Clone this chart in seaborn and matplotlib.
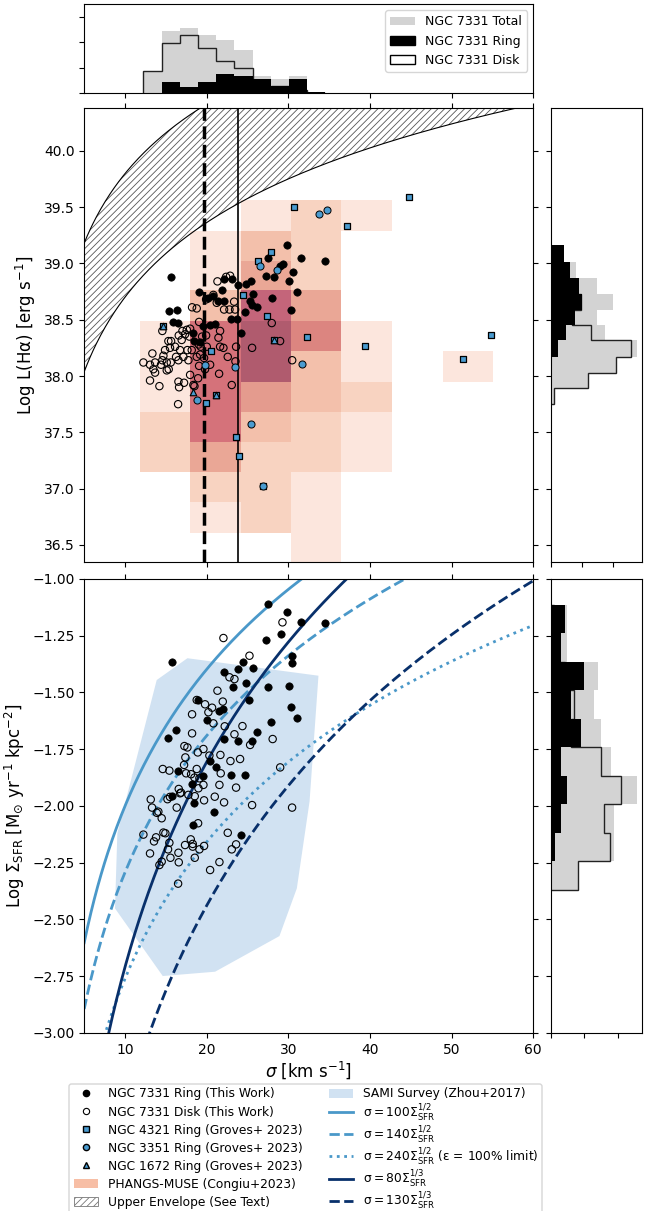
import numpy as np
import matplotlib
matplotlib.use("Agg")
import matplotlib.pyplot as plt
import seaborn as sns
from matplotlib.colors import ListedColormap
from matplotlib.lines import Line2D
from matplotlib.patches import Patch, FancyBboxPatch

# ---------------- data ----------------
# NGC 7331 ring, upper panel (sigma [km/s], log L(Halpha))
ring_sig_L = [15.64, 22.13, 23.15, 23.89, 24.79, 25.40, 27.56, 29.04, 29.32, 27.32, 28.30, 30.55,
              30.14, 19.03, 21.93, 20.21, 20.82, 21.44, 22.17, 25.73, 25.32, 25.52, 26.14, 24.71,
              27.97, 30.34, 15.35, 16.33, 15.84, 16.54, 19.52, 20.42, 21.03, 22.95, 23.68, 24.22,
              18.37, 18.50, 19.19, 29.81, 31.57, 34.47, 31.12]
ring_logL = [38.88, 38.86, 38.86, 38.81, 38.82, 38.84, 39.05, 38.98, 38.99, 38.89, 38.88, 38.92,
             38.84, 38.75, 38.76, 38.69, 38.71, 38.67, 38.67, 38.73, 38.67, 38.63, 38.61, 38.57,
             38.69, 38.59, 38.58, 38.59, 38.48, 38.47, 38.44, 38.45, 38.46, 38.51, 38.51, 38.38,
             38.38, 38.31, 38.30, 39.16, 39.05, 39.02, 38.75]

# NGC 7331 disk, upper panel
disk_sig_L = [22.87, 22.38, 21.32, 20.82, 19.93, 21.23, 23.36, 22.13, 22.79, 23.48, 18.21, 18.78,
              19.07, 17.56, 17.03, 17.97, 17.35, 16.58, 17.88, 19.44, 19.93, 21.64, 21.44, 15.31,
              15.64, 16.94, 16.13, 15.51, 16.74, 17.64, 18.17, 19.03, 19.27, 20.01, 22.05, 23.60,
              25.56, 13.35, 14.70, 12.25, 13.06, 13.68, 14.41, 15.11, 15.60, 16.25, 16.54, 17.15,
              17.76, 18.78, 19.19, 19.68, 22.58, 23.52, 19.07, 19.80, 20.42, 21.52, 13.47, 13.68,
              15.11, 15.35, 14.57, 13.06, 14.21, 16.54, 17.23, 16.62, 17.97, 18.95, 18.37, 23.07,
              16.50, 27.97, 28.99, 30.47, 14.57, 18.50, 21.64, 14.90]
disk_logL = [38.89, 38.88, 38.84, 38.72, 38.68, 38.65, 38.66, 38.59, 38.59, 38.59, 38.61, 38.60,
             38.48, 38.41, 38.40, 38.42, 38.37, 38.36, 38.35, 38.35, 38.36, 38.40, 38.34, 38.31,
             38.31, 38.32, 38.26, 38.25, 38.23, 38.23, 38.23, 38.28, 38.26, 38.26, 38.25, 38.26,
             38.25, 38.20, 38.18, 38.12, 38.10, 38.12, 38.10, 38.12, 38.12, 38.17, 38.14, 38.17,
             38.14, 38.17, 38.19, 38.16, 38.17, 38.13, 38.09, 38.06, 38.10, 38.02, 38.06, 38.03,
             38.05, 38.06, 38.14, 37.96, 37.91, 37.95, 37.94, 37.90, 38.01, 37.98, 37.92, 37.92,
             37.75, 38.47, 38.31, 38.14, 38.40, 37.91, 38.26, 38.23]

# Groves+2023 rings
n4321_sig = [44.76, 30.75, 37.16, 27.85, 26.34, 24.50, 27.44, 32.34, 54.77, 28.26, 39.41, 51.34,
             20.50, 23.64, 23.93, 26.95, 14.70, 19.93, 21.17]
n4321_logL = [39.59, 39.50, 39.33, 39.10, 39.02, 38.72, 38.53, 38.35, 38.36, 38.32, 38.27, 38.15,
              38.22, 37.46, 37.29, 37.02, 38.44, 37.76, 37.83]
n3351_sig = [33.81, 34.71, 26.54, 28.67, 19.84, 23.48, 18.86, 25.44, 31.65, 26.95]
n3351_logL = [39.44, 39.47, 38.98, 38.94, 38.10, 38.08, 37.79, 37.57, 38.11, 37.02]
n1672_sig = [14.70, 18.37, 21.17, 28.26]
n1672_logL = [38.44, 37.86, 37.83, 38.32]

# NGC 7331 ring, lower panel (sigma, log Sigma_SFR)
ring_sig_S = [27.57, 29.81, 31.57, 34.47, 29.12, 27.24, 30.50, 30.50, 15.72, 24.46, 23.89, 25.69,
              22.13, 24.79, 23.19, 27.48, 30.14, 25.15, 18.95, 21.97, 21.56, 30.30, 31.12, 27.93,
              20.01, 16.29, 15.31, 26.14, 25.56, 23.85, 22.09, 20.46, 21.15, 16.49, 19.60, 23.03,
              24.66, 18.25, 15.80, 18.46, 20.95, 18.29, 24.22]
ring_logS = [-1.109, -1.144, -1.189, -1.195, -1.242, -1.267, -1.338, -1.372, -1.367, -1.367, -1.396,
             -1.391, -1.411, -1.458, -1.476, -1.477, -1.471, -1.533, -1.533, -1.573, -1.581, -1.564,
             -1.611, -1.631, -1.623, -1.665, -1.702, -1.672, -1.712, -1.715, -1.703, -1.803, -1.828,
             -1.846, -1.866, -1.863, -1.863, -1.903, -1.957, -1.985, -2.028, -2.085, -2.126]

# NGC 7331 disk, lower panel
disk_sig_S = [22.05, 29.28, 25.24, 22.79, 23.40, 21.32, 18.78, 19.80, 21.97, 20.66, 20.21, 18.21,
              22.21, 20.82, 24.38, 23.40, 28.08, 25.32, 18.21, 17.27, 17.64, 18.91, 19.60, 17.39,
              20.33, 21.68, 22.91, 24.09, 29.00, 14.62, 15.43, 17.23, 17.48, 18.09, 18.78, 18.50,
              19.11, 21.56, 19.60, 16.58, 16.86, 17.76, 18.99, 23.60, 20.99, 22.13, 18.54, 19.68,
              25.56, 30.46, 13.15, 13.31, 16.33, 14.08, 12.25, 13.55, 13.80, 14.70, 14.94, 15.43,
              15.27, 13.06, 15.56, 14.49, 14.21, 16.54, 16.58, 17.35, 18.05, 18.29, 18.29, 19.11,
              19.68, 18.54, 18.95, 22.58, 23.60, 23.07, 21.56, 20.42, 16.50, 14.49, 15.50, 15.20,
              16.74, 21.72, 13.90]
disk_logS = [-1.260, -1.191, -1.338, -1.433, -1.441, -1.492, -1.533, -1.552, -1.540, -1.567, -1.587,
             -1.596, -1.649, -1.636, -1.648, -1.684, -1.705, -1.731, -1.680, -1.736, -1.742, -1.764,
             -1.749, -1.786, -1.778, -1.775, -1.802, -1.793, -1.830, -1.837, -1.844, -1.819, -1.856,
             -1.860, -1.837, -1.875, -1.878, -1.907, -1.907, -1.925, -1.941, -1.951, -1.922, -1.919,
             -1.959, -1.984, -1.957, -1.975, -1.996, -2.007, -1.971, -2.007, -2.007, -2.025, -2.126,
             -2.156, -2.138, -2.117, -2.120, -2.162, -2.191, -2.209, -2.228, -2.245, -2.260, -2.206,
             -2.248, -2.172, -2.147, -2.167, -2.179, -2.191, -2.176, -2.228, -2.076, -2.118, -2.169,
             -2.191, -2.247, -2.282, -2.342, -2.054, -1.960, -1.970, -1.944, -1.856, -2.030]

# marginal histograms (bin edges and heights)
sig_edges = [12.25, 14.5, 16.7, 18.9, 21.15, 23.4, 25.65, 27.85, 30.06, 32.3, 34.5]
sig_total = [8.7, 24.7, 25.8, 22.9, 20.8, 16.9, 6.8, 5.5, 6.6, 0.5]
sig_ring = [0.0, 4.5, 2.5, 4.5, 7.5, 6.8, 5.6, 2.6, 5.6, 0.5]
sig_disk = [8.7, 19.7, 22.9, 17.8, 12.5, 9.7, 1.2, 2.9, 1.0, 0.0]

L_edges = [37.75, 37.89, 38.03, 38.17, 38.32, 38.45, 38.59, 38.73, 38.87, 39.01, 39.16]
L_total = [1.1, 12.1, 21.0, 27.9, 17.7, 14.8, 20.0, 14.8, 8.0, 4.1]
L_ring = [0.0, 0.0, 0.0, 2.2, 5.0, 7.9, 10.1, 9.0, 6.1, 4.1]
L_disk = [1.1, 12.1, 21.0, 26.0, 12.9, 6.8, 9.9, 5.8, 2.0, 0.0]

S_edges = [-2.370, -2.244, -2.118, -1.993, -1.867, -1.742, -1.616, -1.490, -1.365, -1.238, -1.113]
S_total = [8.0, 18.9, 18.9, 25.9, 18.0, 14.9, 12.9, 14.0, 4.9, 4.9]
S_ring = [0.0, 1.1, 2.9, 4.9, 2.9, 8.9, 6.0, 9.8, 2.9, 4.1]
S_disk = [8.0, 17.8, 16.0, 20.9, 15.1, 6.1, 7.0, 4.2, 2.0, 0.8]

# PHANGS-MUSE (Congiu+2023) binned density levels (rows from top to bottom)
phangs_sig_edges = [11.8, 18.0, 24.15, 30.35, 36.5, 42.7, 48.9, 55.05]
phangs_L_edges = [39.56, 39.29, 39.02, 38.76, 38.49, 38.22, 37.95, 37.68, 37.41, 37.15, 36.88, 36.61, 36.34]
phangs_levels = [
    [0, 0, 1, 2, 1, 0, 0],
    [0, 1, 3, 2, 0, 0, 0],
    [0, 1, 4, 2, 0, 0, 0],
    [0, 3, 8, 4, 0, 0, 0],
    [1, 7, 9, 6, 1, 0, 0],
    [1, 7, 9, 3, 1, 0, 1],
    [1, 7, 5, 3, 2, 0, 0],
    [2, 7, 3, 2, 1, 0, 0],
    [2, 4, 2, 2, 1, 0, 0],
    [0, 2, 2, 1, 0, 0, 0],
    [0, 1, 2, 1, 0, 0, 0],
    [0, 0, 0, 1, 0, 0, 0],
]

# SAMI survey region (Zhou+2017)
sami_sig = [13.88, 17.64, 33.69, 32.6, 31.04, 28.91, 21.03, 14.62, 8.77, 9.06]
sami_logS = [-1.445, -1.349, -1.426, -1.98, -2.363, -2.573, -2.730, -2.749, -2.451, -2.12]

# model relations sigma = A * Sigma^p
model_A = [100, 140, 240, 80, 130]
model_p = [1 / 2, 1 / 2, 1 / 2, 1 / 3, 1 / 3]
model_labels = [r"σ$ = 100\Sigma_{\rm SFR}^{1/2}$",
                r"σ$ = 140\Sigma_{\rm SFR}^{1/2}$",
                r"σ$ = 240\Sigma_{\rm SFR}^{1/2}$ (ε = 100% limit)",
                r"σ$ = 80\Sigma_{\rm SFR}^{1/3}$",
                r"σ$ = 130\Sigma_{\rm SFR}^{1/3}$"]

# upper envelope: log L = a + b log sigma
env_low = (36.5, 2.2)
env_up = (37.747, 2.05)

# vertical reference lines
vline_dashed = 19.7
vline_solid = 23.85

# ---------------- styling ----------------
plt.rcParams["font.family"] = ["DejaVu Sans"]
plt.rcParams["hatch.linewidth"] = 0.6
plt.rcParams["hatch.color"] = "#555555"

light_blue = "#4a98c9"
dark_blue = "#08306b"
marker_blue = "#4a9bd0"
phangs_cmap = ListedColormap(["#fce6dd", "#f8d3c1", "#f3c0ab", "#eaa796", "#e49b8e",
                              "#dc8580", "#d5727a", "#c4657a", "#b05b6e"])

fig = plt.figure(figsize=(6.47, 12.11), dpi=100)
W, H = 647.0, 1211.0
x0, x1 = 84.2, 533.3
ax_top = fig.add_axes([x0 / W, 1 - 93 / H, (x1 - x0) / W, 89 / H])
ax_up = fig.add_axes([x0 / W, 1 - 562 / H, (x1 - x0) / W, 454 / H])
ax_low = fig.add_axes([x0 / W, 1 - 1033 / H, (x1 - x0) / W, 454 / H])
ax_rup = fig.add_axes([551 / W, 1 - 562 / H, 90.5 / W, 454 / H])
ax_rlow = fig.add_axes([551 / W, 1 - 1033 / H, 90.5 / W, 454 / H])

xticks = [10, 20, 30, 40, 50, 60]

# ---------------- upper panel ----------------
ax = ax_up
lev = np.ma.masked_equal(np.array(phangs_levels, dtype=float)[::-1], 0)
ax.pcolormesh(phangs_sig_edges, phangs_L_edges[::-1], lev, cmap=phangs_cmap,
              vmin=0.5, vmax=9.5, zorder=0.5, shading="flat")

sig_grid = np.linspace(5, 60, 300)
low_curve = env_low[0] + env_low[1] * np.log10(sig_grid)
up_curve = env_up[0] + env_up[1] * np.log10(sig_grid)
ax.fill_between(sig_grid, low_curve, up_curve, facecolor="none", edgecolor="#555555",
                hatch="/////", linewidth=0, zorder=1)
ax.plot(sig_grid, low_curve, color="k", lw=0.8, zorder=1.2)
ax.plot(sig_grid, up_curve, color="k", lw=0.8, zorder=1.2)

ax.axvline(vline_dashed, color="k", ls="--", lw=2.5, zorder=2)
ax.axvline(vline_solid, color="k", ls="-", lw=1.2, zorder=2)

sns.scatterplot(x=disk_sig_L, y=disk_logL, ax=ax, s=28, facecolor="none", edgecolor="k",
                linewidth=0.8, zorder=3)
sns.scatterplot(x=ring_sig_L, y=ring_logL, ax=ax, s=28, color="k", edgecolor="k",
                linewidth=0.5, zorder=3.2)
sns.scatterplot(x=n4321_sig, y=n4321_logL, ax=ax, s=24, marker="s", color=marker_blue,
                edgecolor="k", linewidth=0.9, zorder=4)
sns.scatterplot(x=n3351_sig, y=n3351_logL, ax=ax, s=26, marker="o", color=marker_blue,
                edgecolor="k", linewidth=0.7, zorder=4.1)
sns.scatterplot(x=n1672_sig, y=n1672_logL, ax=ax, s=22, marker="^", color=marker_blue,
                edgecolor="k", linewidth=0.8, zorder=4.2)

ax.set_xlim(5, 60)
ax.set_ylim(36.349, 40.379)
ax.set_xticks(xticks)
ax.set_yticks([36.5, 37.0, 37.5, 38.0, 38.5, 39.0, 39.5, 40.0])
ax.tick_params(top=True, right=True, labelbottom=False)
ax.set_xlabel("")
ax.set_ylabel("Log L(Hα) [erg s$^{-1}$]", fontsize=12)

# ---------------- lower panel ----------------
ax = ax_low
ax.fill(sami_sig, sami_logS, color="#c6dbef", alpha=0.8, lw=0, zorder=0.5)
styles = ["-", "--", ":", "-", "--"]
colors = [light_blue, light_blue, light_blue, dark_blue, dark_blue]
for A, p, st, c in zip(model_A, model_p, styles, colors):
    sig_m = np.linspace(5, 60, 400)
    logS = np.log10((sig_m / A) ** (1 / p))
    sns.lineplot(x=sig_m, y=logS, ax=ax, color=c, ls=st, lw=2, zorder=2)

sns.scatterplot(x=disk_sig_S, y=disk_logS, ax=ax, s=28, facecolor="none", edgecolor="k",
                linewidth=0.8, zorder=3)
sns.scatterplot(x=ring_sig_S, y=ring_logS, ax=ax, s=28, color="k", edgecolor="k",
                linewidth=0.5, zorder=3.2)
ax.set_xlim(5, 60)
ax.set_ylim(-3, -1)
ax.set_xticks(xticks)
ax.set_yticks([-3.0, -2.75, -2.5, -2.25, -2.0, -1.75, -1.5, -1.25, -1.0])
ax.tick_params(top=True, right=True)
ax.set_xlabel(r"$\sigma$ [km s$^{-1}$]", fontsize=12, labelpad=2)
ax.set_ylabel(r"Log $\Sigma_{\rm SFR}$ [M$_{\odot}$ yr$^{-1}$ kpc$^{-2}$]", fontsize=12)

# ---------------- marginal histograms ----------------
def centers(edges):
    e = np.asarray(edges)
    return 0.5 * (e[1:] + e[:-1])

ax = ax_top
sns.histplot(x=centers(sig_edges), weights=sig_total, bins=sig_edges, color="lightgray",
             alpha=1, linewidth=0, ax=ax, zorder=1)
ax.stairs(sig_disk, sig_edges, color="#222222", lw=1.0, zorder=2)
sns.histplot(x=centers(sig_edges), weights=sig_ring, bins=sig_edges, color="k",
             alpha=1, linewidth=0, ax=ax, zorder=3)
ax.set_xlim(5, 60)
ax.set_ylim(0, 35.2)
ax.set_xticks(xticks)
ax.set_yticks([0, 10, 20, 30])
ax.tick_params(labelbottom=False, labelleft=False)
ax.set_xlabel("")
ax.set_ylabel("")
ax.legend(handles=[Patch(facecolor="lightgray", edgecolor="none"),
                   Patch(facecolor="k", edgecolor="k"),
                   Patch(facecolor="white", edgecolor="k")],
          labels=["NGC 7331 Total", "NGC 7331 Ring", "NGC 7331 Disk"],
          loc="upper right", fontsize=9)

for ax, edges, tot, rng, dsk, ylim, yt, xmax in [
        (ax_rup, L_edges, L_total, L_ring, L_disk, (36.349, 40.379),
         [36.5, 37.0, 37.5, 38.0, 38.5, 39.0, 39.5, 40.0], 29.4),
        (ax_rlow, S_edges, S_total, S_ring, S_disk, (-3, -1),
         [-3.0, -2.75, -2.5, -2.25, -2.0, -1.75, -1.5, -1.25, -1.0], 27.2)]:
    sns.histplot(y=centers(edges), weights=tot, bins=edges, color="lightgray",
                 alpha=1, linewidth=0, ax=ax, zorder=1)
    ax.stairs(dsk, edges, orientation="horizontal", color="#222222", lw=1.0, zorder=2)
    sns.histplot(y=centers(edges), weights=rng, bins=edges, color="k",
                 alpha=1, linewidth=0, ax=ax, zorder=3)
    ax.set_ylim(*ylim)
    ax.set_yticks(yt)
    ax.set_xlim(0, xmax)
    ax.set_xticks([0, 10, 20])
    ax.tick_params(labelbottom=False, labelleft=False)
    ax.set_xlabel("")
    ax.set_ylabel("")

# ---------------- bottom legend (two columns in one frame) ----------------
ms = 4.5
handles1 = [
    Line2D([], [], ls="none", marker="o", color="k", markersize=ms),
    Line2D([], [], ls="none", marker="o", markerfacecolor="none", markeredgecolor="k",
           markersize=ms, markeredgewidth=0.8),
    Line2D([], [], ls="none", marker="s", markerfacecolor=marker_blue, markeredgecolor="k",
           markersize=ms),
    Line2D([], [], ls="none", marker="o", markerfacecolor=marker_blue, markeredgecolor="k",
           markersize=ms),
    Line2D([], [], ls="none", marker="^", markerfacecolor=marker_blue, markeredgecolor="k",
           markersize=ms),
    Patch(facecolor="#f7bea5", edgecolor="none"),
    Patch(facecolor="white", edgecolor="#777777", hatch="/////", lw=0.6),
]
labels1 = ["NGC 7331 Ring (This Work)", "NGC 7331 Disk (This Work)",
           "NGC 4321 Ring (Groves+ 2023)", "NGC 3351 Ring (Groves+ 2023)",
           "NGC 1672 Ring (Groves+ 2023)", "PHANGS-MUSE (Congiu+2023)",
           "Upper Envelope (See Text)"]
handles2 = [Patch(facecolor="#c6dbef", alpha=0.8, edgecolor="none")]
labels2 = ["SAMI Survey (Zhou+2017)"]
for st, c, lab in zip(styles, colors, model_labels):
    handles2.append(Line2D([], [], color=c, ls=st, lw=2))
    labels2.append(lab)

frame = FancyBboxPatch((0.69, -0.25), 4.73, (H - 1084) / 100 + 0.25,
                       boxstyle="round,pad=0,rounding_size=0.025",
                       transform=fig.dpi_scale_trans, facecolor="white",
                       edgecolor="0.8", lw=1.0, alpha=0.8, zorder=4)
fig.add_artist(frame)

row_top = 1 - 1087.5 / H
fig.legend(handles=handles1, labels=labels1, loc="upper left",
           bbox_to_anchor=(74 / W, row_top), fontsize=8.8, frameon=False,
           borderaxespad=0, borderpad=0, labelspacing=0.41)
fig.legend(handles=handles2, labels=labels2, loc="upper left",
           bbox_to_anchor=(329 / W, row_top), fontsize=8.8, frameon=False,
           borderaxespad=0, borderpad=0, labelspacing=0.1)

fig.savefig("out.png", dpi=100)
